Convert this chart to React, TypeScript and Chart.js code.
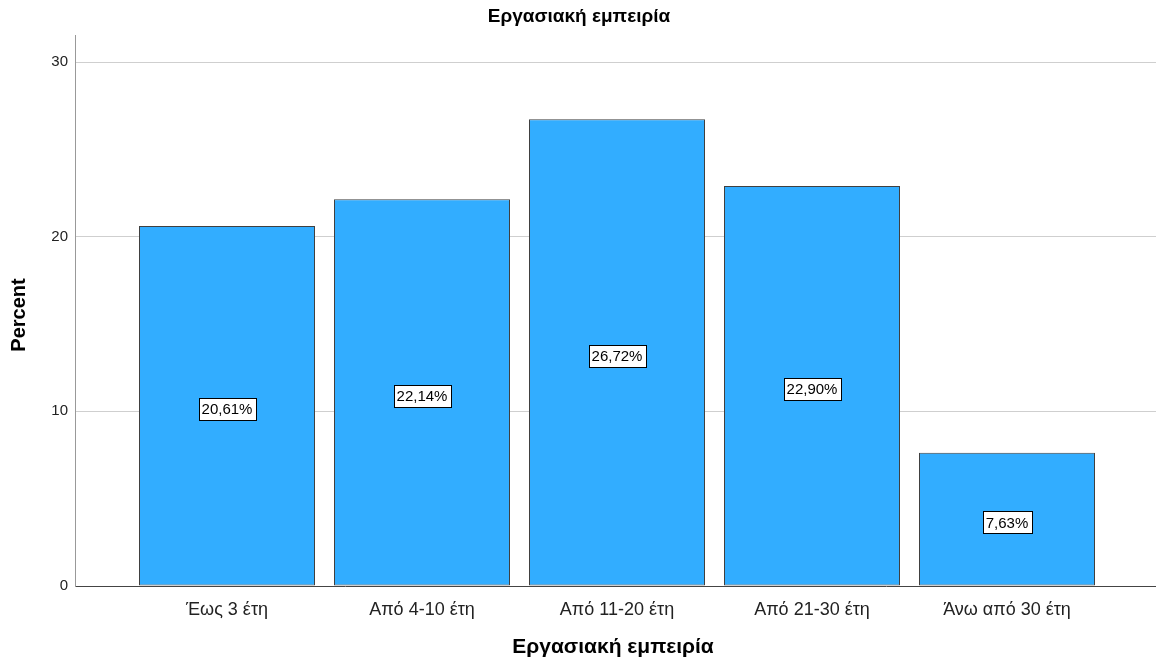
import React, { useEffect, useRef } from "react";
import { Chart, registerables } from "chart.js";

Chart.register(...registerables);

const categories = ["Έως 3 έτη", "Από 4-10 έτη", "Από 11-20 έτη", "Από 21-30 έτη", "Άνω από 30 έτη"];
const percentValues = [20.61, 22.14, 26.72, 22.9, 7.63];
const yTickValues = [0, 10, 20, 30];
const chartTitle = "Εργασιακή εμπειρία";
const xAxisTitle = "Εργασιακή εμπειρία";
const yAxisTitle = "Percent";

const FONT = "'Liberation Sans', Arial, sans-serif";

const formatPct = (v: number) => v.toFixed(2).replace(".", ",") + "%";

const labelsPlugin = {
  id: "customLabels",
  afterDatasetsDraw(chart: any) {
    const { ctx } = chart;
    const meta = chart.getDatasetMeta(0);
    const yScale = chart.scales.y;
    ctx.save();
    ctx.font = `15px ${FONT}`;
    ctx.textAlign = "center";
    ctx.textBaseline = "middle";
    meta.data.forEach((bar: any, i: number) => {
      const v = percentValues[i];
      const cx = bar.x;
      const cy = yScale.getPixelForValue(v / 2) + 3;
      const text = formatPct(v);
      const w = Math.round(ctx.measureText(text).width + 6);
      const h = 22;
      const x0 = Math.round(cx - w / 2) + 0.5;
      const y0 = Math.round(cy - h / 2) + 0.5;
      ctx.fillStyle = "#ffffff";
      ctx.fillRect(x0, y0, w, h);
      ctx.strokeStyle = "#000000";
      ctx.lineWidth = 1;
      ctx.strokeRect(x0, y0, w, h);
      ctx.fillStyle = "#000000";
      ctx.fillText(text, cx, cy + 1);
    });
    ctx.restore();
  },
  afterDraw(chart: any) {
    const { ctx } = chart;
    ctx.save();
    ctx.fillStyle = "#000000";
    ctx.textAlign = "center";
    ctx.textBaseline = "middle";
    ctx.font = `bold 19px ${FONT}`;
    ctx.fillText(chartTitle, 579, 17);
    ctx.font = `bold 21px ${FONT}`;
    ctx.fillText(xAxisTitle, 613, 647);
    ctx.font = `bold 20px ${FONT}`;
    ctx.translate(19, 315);
    ctx.rotate(-Math.PI / 2);
    ctx.fillText(yAxisTitle, 0, 0);
    ctx.restore();
  },
};

export default function App() {
  const canvasRef = useRef<HTMLCanvasElement | null>(null);

  useEffect(() => {
    document.body.style.margin = "0";
    const canvas = canvasRef.current;
    if (!canvas) return;
    const chart = new Chart(canvas, {
      type: "bar",
      data: {
        datasets: [
          {
            data: percentValues.map((v, i) => ({ x: i + 1, y: v })),
            backgroundColor: "#32adff",
            borderColor: "#404040",
            borderWidth: 1,
            borderSkipped: false,
            inflateAmount: 0,
            categoryPercentage: 1,
            barPercentage: 176 / 195,
          },
        ],
      },
      options: {
        animation: false,
        responsive: false,
        maintainAspectRatio: false,
        events: [],
        layout: { padding: { top: 35, left: 0, right: 0, bottom: 0 } },
        plugins: {
          legend: { display: false },
          title: { display: false },
          tooltip: { enabled: false },
        },
        scales: {
          x: {
            type: "linear",
            offset: false,
            min: 1 - 152 / 195,
            max: 1 - 152 / 195 + 1081 / 195,
            afterBuildTicks: (scale: any) => {
              scale.ticks = categories.map((_, i) => ({ value: i + 1 }));
            },
            afterFit: (scale: any) => {
              scale.height = 82;
            },
            grid: { display: false, drawTicks: false },
            border: { display: true, color: "#444444", width: 1 },
            ticks: {
              autoSkip: false,
              maxRotation: 0,
              padding: 13,
              color: "#222222",
              font: { family: FONT, size: 18 },
              callback: (v: any) => categories[Math.round(Number(v)) - 1] ?? "",
            },
          },
          y: {
            type: "linear",
            min: 0,
            max: 31.55,
            afterBuildTicks: (scale: any) => {
              scale.ticks = yTickValues.map((v) => ({ value: v }));
            },
            afterFit: (scale: any) => {
              scale.width = 75;
            },
            grid: {
              drawTicks: false,
              color: (c: any) => (c.tick && c.tick.value === 0 ? "rgba(0,0,0,0)" : "#cfcfcf"),
              lineWidth: 1,
            },
            border: { display: true, color: "#999999", width: 1 },
            ticks: {
              padding: 7,
              color: "#222222",
              font: { family: FONT, size: 15 },
              callback: (v: any) => String(v),
            },
          },
        },
      },
      plugins: [labelsPlugin],
    } as any);
    return () => chart.destroy();
  }, []);

  return (
    <div style={{ width: 1156, height: 668, position: "relative" }}>
      <canvas ref={canvasRef} width={1156} height={668} style={{ display: "block", width: 1156, height: 668 }} />
    </div>
  );
}
